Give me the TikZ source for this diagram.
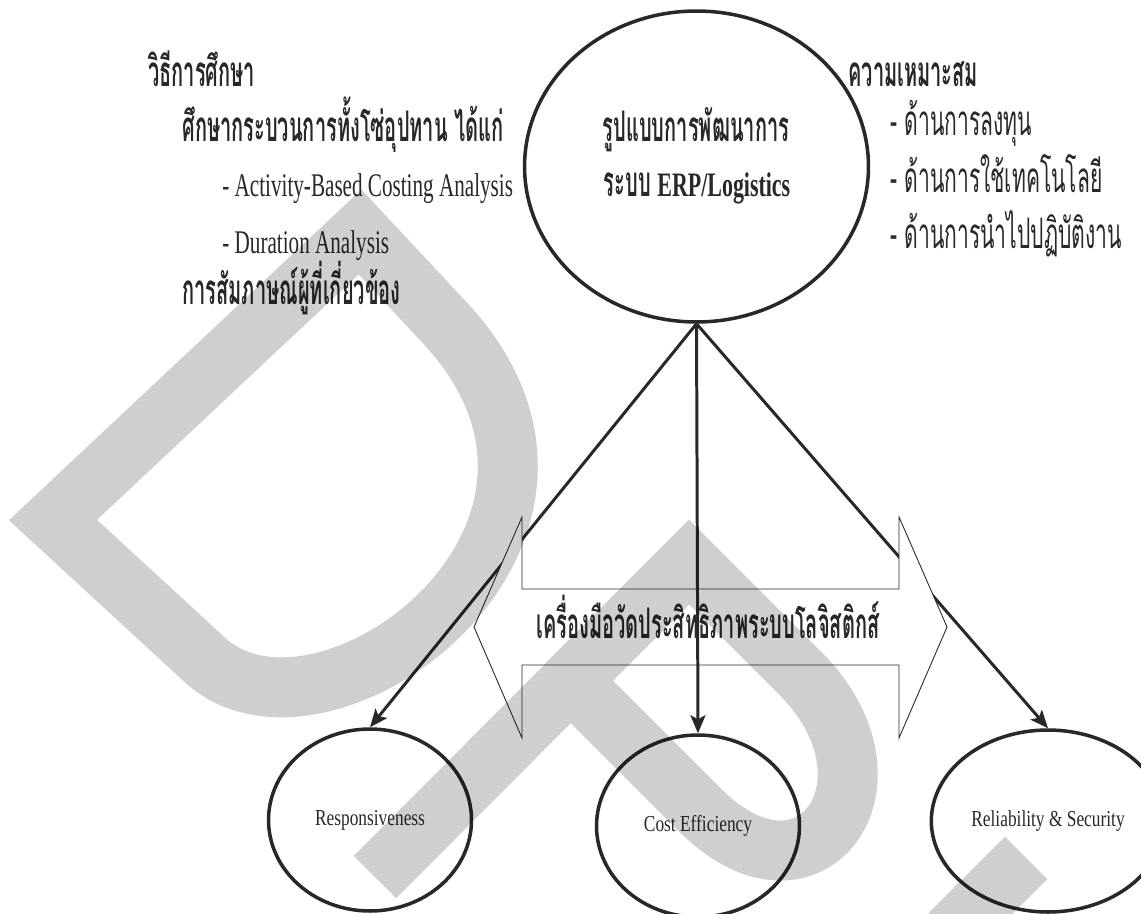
\documentclass[tikz,border=0pt]{standalone}
\usepackage{fontspec}
\setmainfont{Liberation Serif}[FakeStretch=0.64]
\newfontfamily\thaifont{Loma}[Script=Thai,FakeStretch=0.5,BoldFeatures={FakeStretch=0.475}]
\newfontfamily\labelfont{Liberation Serif}[FakeStretch=0.76]
\usetikzlibrary{arrows.meta,positioning,shapes.geometric}
\definecolor{ink}{RGB}{40,40,44}

\begin{document}
\begin{tikzpicture}[x=0.02cm, y=-0.02cm,
    thaihead/.style={font=\thaifont\bfseries\fontsize{24}{28}\selectfont, text=ink, inner sep=0pt},
    thaiitem/.style={font=\thaifont\fontsize{24}{28}\selectfont, text=ink, inner sep=0pt},
    latitem/.style={font=\rmfamily\fontsize{18.8}{22}\selectfont, text=ink, inner sep=0pt},
    bubble/.style={draw=ink, line width=2pt, ellipse, minimum width=6.88cm, minimum height=6.22cm},
    outcome/.style={draw=ink, line width=2pt, ellipse, minimum width=4.06cm, minimum height=3.64cm,
        font=\labelfont\fontsize{13}{15}\selectfont, text=ink},
    link/.style={draw=ink, line width=1.7pt, -{Stealth[length=0.36cm, width=0.3cm, inset=0.08cm]}},
    tool/.style={draw=ink, line width=0.5pt, fill=white, line join=miter},
    wmark/.style={draw=black, draw opacity=0.19, line width=1.2cm, line join=miter, line cap=butt}]

    \path[use as bounding box] (0,0) rectangle (1141,913);
    \clip (0,0) rectangle (1141,913);

    % --- central model ---
    \node[bubble] (erp) at (696.5,166.5) {};
    \node[thaihead, anchor=base] (erptop) at (696,141) {รูปแบบการพัฒนาการ};
    \node[thaihead, anchor=base] (erpbot) at (697,196)
        {ระบบ {\rmfamily\bfseries\fontsize{19.5}{23}\selectfont ERP/Logistics}};

    % --- study method (left) ---
    \node[thaihead, anchor=base west] (method) at (148,86) {วิธีการศึกษา};
    \node[thaihead, anchor=base west] (chain) at (182,141) {ศึกษากระบวนการทั้งโซ่อุปทาน ได้แก่};
    \node[latitem, anchor=base west] (abc) at (222,196) {- Activity-Based Costing Analysis};
    \node[latitem, anchor=base west] (dur) at (222,253) {- Duration Analysis};
    \node[thaihead, anchor=base west] (interview) at (182,304) {การสัมภาษณ์ผู้ที่เกี่ยวข้อง};

    % --- suitability (right) ---
    \node[thaihead, anchor=base west] (suit) at (848,86) {ความเหมาะสม};
    \foreach \nm/\y/\txt in {invest/135/ด้านการลงทุน, techno/192/ด้านการใช้เทคโนโลยี,
        operate/248/ด้านการนำไปปฏิบัติงาน}{
        \node[thaiitem, anchor=base west] (\nm) at (890,\y) {- \txt};
    }

    % --- outcome measures ---
    \foreach \nm/\x/\y/\txt in {resp/370/820/Responsiveness, cost/698/826/Cost Efficiency,
        rel/1048/821/Reliability \& Security}{
        \node[outcome] (\nm) at (\x,\y) {\txt};
    }

    \draw[link] (erp.south) -- (resp.north);
    \draw[link] (erp.south) -- (rel.north);

    % double block arrow
    \draw[tool] (474,627) -- (522,517) -- (522,589) -- (899,589) -- (899,517)
        -- (947,627) -- (899,738) -- (899,665) -- (522,665) -- (522,738) -- cycle;
    \node[thaihead, anchor=base] (tooltxt) at (708,638) {เครื่องมือวัดประสิทธิภาพระบบโลจิสติกส์};

    \draw[link] (erp.south) -- (cost.north);

    % --- watermark ---
    \draw[wmark] (53,520) -- (360,232) -- (445,323) .. controls (642,535) and (323,768) .. (205,660)
        -- cycle;
    \draw[wmark] (375,877) -- (689,562) -- (800,673) .. controls (910,783) and (810,920) .. (700,810)
        -- (570,680);
    \draw[wmark] (950,934) -- (1026,858);
\end{tikzpicture}
\end{document}
